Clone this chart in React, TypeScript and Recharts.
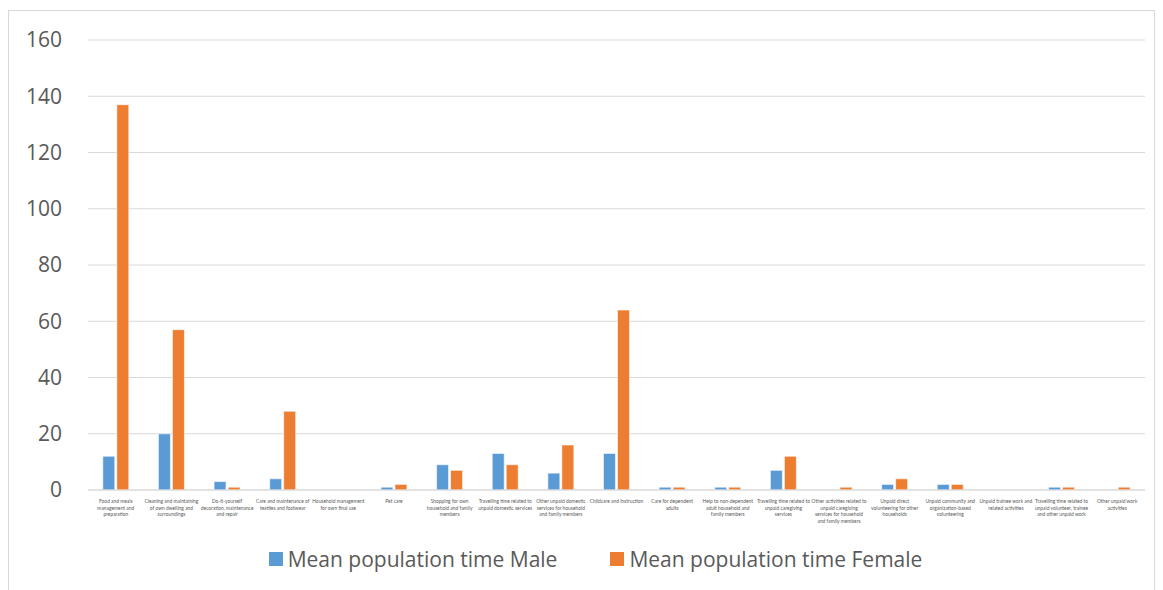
import { BarChart, Bar, XAxis, YAxis, CartesianGrid, Legend } from "recharts";

// category labels, line breaks as they appear in the chart
const categories = [
  "Food and meals\nmanagement and\npreparation",
  "Cleaning and maintaining\nof own dwelling and\nsurroundings",
  "Do-it-yourself\ndecoration, maintenance\nand repair",
  "Care and maintenance of\ntextiles and footwear",
  "Household management\nfor own final use",
  "Pet care",
  "Shopping for own\nhousehold and family\nmembers",
  "Travelling time related to\nunpaid domestic services",
  "Other unpaid domestic\nservices for household\nand family members",
  "Childcare and instruction",
  "Care for dependent\nadults",
  "Help to non-dependent\nadult household and\nfamily members",
  "Travelling time related to\nunpaid caregiving\nservices",
  "Other activities related to\nunpaid caregiving\nservices for household\nand family members",
  "Unpaid direct\nvolunteering for other\nhouseholds",
  "Unpaid community and\norganization-based\nvolunteering",
  "Unpaid trainee work and\nrelated activities",
  "Travelling time related to\nunpaid volunteer, trainee\nand other unpaid work",
  "Other unpaid work\nactivities",
];

const maleValues = [12, 20, 3, 4, 0, 1, 9, 13, 6, 13, 1, 1, 7, 0, 2, 2, 0, 1, 0];
const femaleValues = [137, 57, 1, 28, 0, 2, 7, 9, 16, 64, 1, 1, 12, 1, 4, 2, 0, 1, 1];

const yTicks = [0, 20, 40, 60, 80, 100, 120, 140, 160];

const MALE = "Mean population time Male";
const FEMALE = "Mean population time Female";
const COLORS = ["#5B9BD5", "#ED7D31"];

const data = categories.map((name, i) => ({
  name,
  [MALE]: maleValues[i],
  [FEMALE]: femaleValues[i],
}));

const FONT = "'Open Sans', Lato, sans-serif";

function CategoryTick({ x, y, payload }: any) {
  const lines = String(payload.value).split("\n");
  return (
    <text x={x} y={y} textAnchor="middle" fontSize={4.9} fill="#595959" fontFamily="Lato, sans-serif">
      {lines.map((l, i) => (
        <tspan key={i} x={x} dy={i === 0 ? 4.8 : 6.7}>
          {l}
        </tspan>
      ))}
    </text>
  );
}

function LegendContent() {
  const names = [MALE, FEMALE];
  return (
    <div style={{ display: "flex", justifyContent: "center", gap: 53, paddingLeft: 28, fontFamily: FONT, fontSize: 21, color: "#595959" }}>
      {names.map((n, i) => (
        <div key={n} style={{ display: "flex", alignItems: "center" }}>
          <span style={{ width: 14, height: 14, background: COLORS[i], marginRight: 5, display: "inline-block" }} />
          <span>{n}</span>
        </div>
      ))}
    </div>
  );
}

export default function App() {
  return (
    <div style={{ marginTop: 2, width: 1145, height: 600, border: "1px solid #D9D9D9", background: "#fff", overflow: "hidden" }}>
      <BarChart
        width={1145}
        height={600}
        data={data}
        margin={{ top: 29, right: 9, bottom: 0, left: 19 }}
        barCategoryGap="26.6%"
        barGap={2}
      >
        <CartesianGrid vertical={false} stroke="#D9D9D9" />
        <XAxis
          dataKey="name"
          interval={0}
          tick={<CategoryTick />}
          tickLine={false}
          axisLine={{ stroke: "#D9D9D9" }}
          height={93}
        />
        <YAxis
          width={60}
          domain={[0, 160]}
          ticks={yTicks}
          tickLine={false}
          axisLine={false}
          tickSize={0}
          tickMargin={26}
          tick={{ fontSize: 21, fill: "#595959", fontFamily: FONT }}
        />
        <Legend
          content={<LegendContent />}
          wrapperStyle={{ position: "absolute", top: 534, left: 0, width: 1145 }}
        />
        <Bar dataKey={MALE} fill={COLORS[0]} stroke="#fff" strokeWidth={0.6} isAnimationActive={false} />
        <Bar dataKey={FEMALE} fill={COLORS[1]} stroke="#fff" strokeWidth={0.6} isAnimationActive={false} />
      </BarChart>
    </div>
  );
}
